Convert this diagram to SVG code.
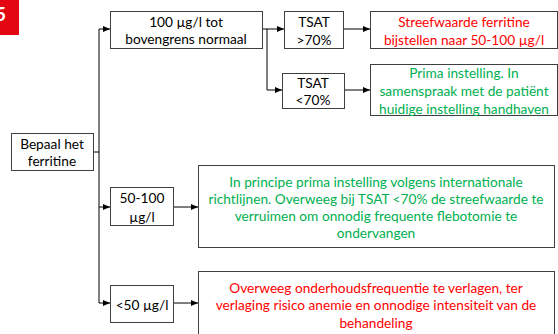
<svg xmlns="http://www.w3.org/2000/svg" width="558" height="334" viewBox="0 0 558 334">
<defs>
<style>
.box{fill:#fff;stroke:#404040;stroke-width:1}
.t{font-family:Lato,"Open Sans","Liberation Sans",sans-serif;font-size:13.7px;text-anchor:middle;dominant-baseline:central;fill:#000}
.g{fill:#00B050}
.r{fill:#FF0000}
.ln{fill:none;stroke:#000;stroke-width:1}
</style>
<marker id="ah" markerWidth="7" markerHeight="6" refX="7" refY="3" orient="auto" markerUnits="userSpaceOnUse">
<path d="M0,0 L7,3 L0,6 Z" fill="#000"/>
</marker>
</defs>
<rect width="558" height="334" fill="#fff"/>
<g id="badge">
<rect x="0" y="0" width="19" height="35" fill="#E30613"/>
<text x="-5" y="21" font-family="Lato,'Liberation Sans',sans-serif" font-weight="bold" font-size="19" fill="#fff">5</text>
</g>
<g id="connectors">
<path class="ln" d="M93,152 H99"/>
<path class="ln" d="M99,29 V303"/>
<path class="ln" d="M99,29 H110" marker-end="url(#ah)"/>
<path class="ln" d="M99,207 H110" marker-end="url(#ah)"/>
<path class="ln" d="M99,303 H110" marker-end="url(#ah)"/>
<path class="ln" d="M262,29 H284" marker-end="url(#ah)"/>
<path class="ln" d="M267,29 V90 H282" marker-end="url(#ah)"/>
<path class="ln" d="M343,29 H370" marker-end="url(#ah)"/>
<path class="ln" d="M344,90 H370" marker-end="url(#ah)"/>
<path class="ln" d="M173,207 H198" marker-end="url(#ah)"/>
<path class="ln" d="M173,303 H198" marker-end="url(#ah)"/>
</g>
<g id="bepaal">
<rect class="box" x="11.5" y="133.5" width="82" height="37"/>
<text class="t" x="52" y="143">Bepaal het</text>
<text class="t" x="52" y="160">ferritine</text>
</g>
<g id="n100">
<rect class="box" x="110.5" y="11.5" width="152" height="37"/>
<text class="t" x="186" y="21">100 µg/l tot</text>
<text class="t" x="186" y="38">bovengrens normaal</text>
</g>
<g id="tsat-hi">
<rect class="box" x="284.5" y="11.5" width="59" height="37"/>
<text class="t" x="314" y="21">TSAT</text>
<text class="t" x="314" y="39">&gt;70%</text>
</g>
<g id="tsat-lo">
<rect class="box" x="282.5" y="73.5" width="62" height="35"/>
<text class="t" x="313" y="82">TSAT</text>
<text class="t" x="313" y="99">&lt;70%</text>
</g>
<g id="res-hi">
<rect class="box" x="370.5" y="11.5" width="187" height="37"/>
<text class="t r" x="464" y="21">Streefwaarde ferritine</text>
<text class="t r" x="464" y="39">bijstellen naar 50-100 µg/l</text>
</g>
<g id="res-lo">
<rect class="box" x="370.5" y="64.5" width="187" height="51"/>
<text class="t g" x="464" y="72">Prima instelling. In</text>
<text class="t g" x="464" y="90">samenspraak met de patiënt</text>
<text class="t g" x="464" y="108">huidige instelling handhaven</text>
</g>
<g id="n50-100">
<rect class="box" x="110.5" y="187.5" width="63" height="38"/>
<text class="t" x="142" y="197">50-100</text>
<text class="t" x="142" y="216">µg/l</text>
</g>
<g id="res-50-100">
<rect class="box" x="198.5" y="165.5" width="356" height="82"/>
<text class="t g" x="376" y="181">In principe prima instelling volgens internationale</text>
<text class="t g" x="376" y="198">richtlijnen. Overweeg bij TSAT &lt;70% de streefwaarde te</text>
<text class="t g" x="376" y="215">verruimen om onnodig frequente flebotomie te</text>
<text class="t g" x="376" y="232">ondervangen</text>
</g>
<g id="n50">
<rect class="box" x="110.5" y="285.5" width="63" height="37"/>
<text class="t" x="142" y="304">&lt;50 µg/l</text>
</g>
<g id="res-50">
<rect class="box" x="198.5" y="271.5" width="356" height="70"/>
<text class="t r" x="376" y="287">Overweeg onderhoudsfrequentie te verlagen, ter</text>
<text class="t r" x="376" y="304">verlaging risico anemie en onnodige intensiteit van de</text>
<text class="t r" x="376" y="322">behandeling</text>
</g>
</svg>
